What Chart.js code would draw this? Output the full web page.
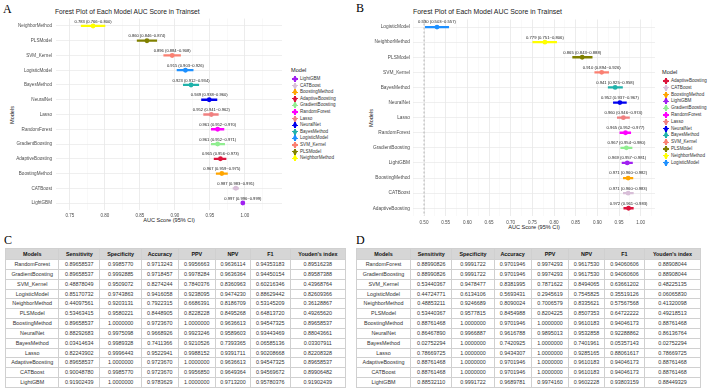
<!DOCTYPE html>
<html><head><meta charset="utf-8">
<script src="https://cdn.jsdelivr.net/npm/chart.js@4.4.1/dist/chart.umd.min.js"></script>
<style>
html,body{margin:0;padding:0;background:#fff;}
body{width:708px;height:390px;position:relative;overflow:hidden;font-family:"Liberation Sans",Arial,sans-serif;}
.abs{position:absolute;white-space:nowrap;}
.letter{font-family:"Liberation Serif","Times New Roman",serif;font-size:12px;line-height:12px;color:#000;}
.ttl{font-size:6.7px;line-height:6.7px;color:#222;}
.axt{font-size:5.6px;line-height:5.6px;color:#222;}
.leg{font-size:4.6px;line-height:6px;color:#333;}
.legT{font-size:5.6px;line-height:6px;color:#222;}
.key{position:absolute;width:6px;height:6px;}
.key .h{position:absolute;left:0;top:2.4px;width:6px;height:1.2px;}
.key .v{position:absolute;left:2.4px;top:0;width:1.2px;height:6px;}
.key .d{position:absolute;left:1px;top:1px;width:4px;height:4px;border-radius:50%;}
table{position:absolute;border-collapse:collapse;table-layout:fixed;font-size:5.4px;color:#333;}
td,th{border:1px solid #d0d0d0;text-align:center;padding:0;height:8.85px;line-height:8.85px;white-space:nowrap;overflow:hidden;}
th{background:#d6d6d6;color:#111;font-weight:bold;height:10px;line-height:10px;}
</style></head><body>

<div class="abs letter" style="left:3px;top:3px;">A</div>
<div class="abs letter" style="left:356px;top:2px;">B</div>
<div class="abs letter" style="left:4px;top:234px;">C</div>
<div class="abs letter" style="left:356px;top:234px;">D</div>

<div class="abs ttl" style="left:55px;top:8.7px;">Forest Plot of Each Model AUC Score in Trainset</div>
<div class="abs ttl" style="left:413px;top:8.7px;font-size:6.9px;">Forest Plot of Each Model AUC Score in Trainset</div>

<div class="abs axt" style="left:169px;top:218.3px;transform:translateX(-50%);">AUC Score (95% CI)</div>
<div class="abs axt" style="left:534px;top:225.3px;transform:translateX(-50%);">AUC Score (95% CI)</div>
<div class="abs axt" style="left:13px;top:114.5px;transform:translate(-50%,-50%) rotate(-90deg);">Models</div>
<div class="abs axt" style="left:372px;top:117.6px;transform:translate(-50%,-50%) rotate(-90deg);">Models</div>

<canvas id="cA" class="abs" style="left:0;top:0;" width="290" height="225"></canvas>
<canvas id="cB" class="abs" style="left:354px;top:0;" width="308" height="235"></canvas>

<div id="legA"></div>
<div id="legB"></div>
<table id="tC" style="left:5px;top:248px;width:340px;"></table>
<table id="tD" style="left:356px;top:248px;width:344px;"></table>

<script>
// ---------- data: panel A (train) ----------
const modelsTrain = ["NeighborMethod","PLSModel","SVM_Kernel","LogisticModel","BayesMethod","NeuralNet","Lasso","RandomForest","GradientBoosting","AdaptiveBoosting","BoostingMethod","CATBoost","LightGBM"];
const aucTrain  = [0.783,0.860,0.896,0.915,0.923,0.949,0.952,0.961,0.961,0.965,0.967,0.987,0.997];
const lowTrain  = [0.766,0.846,0.884,0.903,0.912,0.938,0.941,0.952,0.952,0.956,0.959,0.983,0.996];
const highTrain = [0.800,0.874,0.908,0.926,0.934,0.960,0.962,0.970,0.971,0.973,0.975,0.991,0.999];

// ---------- data: panel B (test) ----------
const modelsTest = ["LogisticModel","NeighborMethod","PLSModel","SVM_Kernel","BayesMethod","NeuralNet","Lasso","RandomForest","GradientBoosting","LightGBM","BoostingMethod","CATBoost","AdaptiveBoosting"];
const aucTest  = [0.530,0.779,0.865,0.910,0.941,0.952,0.960,0.965,0.967,0.969,0.971,0.971,0.972];
const lowTest  = [0.503,0.751,0.843,0.894,0.925,0.937,0.946,0.952,0.954,0.957,0.960,0.960,0.961];
const highTest = [0.557,0.806,0.888,0.926,0.958,0.967,0.974,0.977,0.980,0.981,0.982,0.983,0.983];

const refLine = 0.5;
const ticksA = [0.75,0.80,0.85,0.90,0.95,1.00];
const ticksB = [0.50,0.55,0.60,0.65,0.70,0.75,0.80,0.85,0.90,0.95,1.00];

// ---------- data: tables ----------
const tableHeaders = ["Models","Sensitivity","Specificity","Accuracy","PPV","NPV","F1","Youden's index"];
const tableModels = ["RandomForest","GradientBoosting","SVM_Kernel","LogisticModel","NeighborMethod","PLSModel","BoostingMethod","NeuralNet","BayesMethod","Lasso","AdaptiveBoosting","CATBoost","LightGBM"];

const sensC = ["0.89658537","0.89658537","0.48878049","0.85170732","0.44097561","0.53463415","0.89658537","0.88292683","0.03414634","0.82243902","0.89658537","0.90048780","0.91902439"];
const specC = ["0.9985770","0.9992885","0.9509072","0.9743863","0.9203131","0.9580221","1.0000000","0.9975098","0.9989328","0.9996443","1.0000000","0.9985770","1.0000000"];
const accC  = ["0.9713243","0.9718457","0.8274244","0.9416058","0.7922315","0.8448905","0.9723670","0.9668926","0.7411366","0.9522941","0.9723670","0.9723670","0.9783629"];
const ppvC  = ["0.9956663","0.9978284","0.7840376","0.9238095","0.6686391","0.8228228","1.0000000","0.9923246","0.9210526","0.9988152","1.0000000","0.9956850","1.0000000"];
const npvC  = ["0.9636114","0.9636364","0.8360963","0.9474230","0.8186709","0.8495268","0.9636613","0.9589603","0.7393365","0.9391711","0.9636613","0.9649364","0.9713200"];
const f1C   = ["0.94353183","0.94450154","0.60216346","0.88629442","0.53145209","0.64813720","0.94547325","0.93443469","0.06585136","0.90208668","0.94547325","0.94569672","0.95780376"];
const youC  = ["0.89516238","0.89587388","0.43968764","0.82609366","0.36128867","0.49265620","0.89658537","0.88043661","0.03307911","0.82208328","0.89658537","0.89906482","0.91902439"];

const sensD = ["0.88990826","0.88990826","0.53440367","0.44724771","0.48853211","0.53440367","0.88761468","0.86467890","0.02752294","0.78669725","0.88761468","0.88761468","0.88532110"];
const specD = ["0.9991722","0.9991722","0.9478477","0.6134106","0.9246689","0.9577815","1.0000000","0.9966887","1.0000000","1.0000000","1.0000000","1.0000000","0.9991722"];
const accD  = ["0.9701946","0.9701946","0.8381995","0.5693431","0.8090024","0.8454988","0.9701946","0.9616788","0.7420925","0.9434307","0.9701946","0.9701946","0.9689781"];
const ppvD  = ["0.9974293","0.9974293","0.7871622","0.2945619","0.7006579","0.8204225","1.0000000","0.9895013","1.0000000","1.0000000","1.0000000","1.0000000","0.9974160"];
const npvD  = ["0.9617530","0.9617530","0.8494065","0.7545825","0.8335621","0.8507353","0.9610183","0.9532858","0.7401961","0.9285165","0.9610183","0.9610183","0.9602228"];
const f1D   = ["0.94060606","0.94060606","0.63661202","0.35519126","0.57567568","0.64722222","0.94046173","0.92288862","0.05357143","0.88061617","0.94046173","0.94046173","0.93803159"];
const youD  = ["0.88908044","0.88908044","0.48225135","0.06065830","0.41320098","0.49218513","0.88761468","0.86136764","0.02752294","0.78669725","0.88761468","0.88761468","0.88449329"];

// ---------- styles ----------
const modelColors = {
  LightGBM:"#a020f0", CATBoost:"#d8bfd8", BoostingMethod:"#ffa500", AdaptiveBoosting:"#dc143c",
  GradientBoosting:"#90ee90", RandomForest:"#ff00ff", Lasso:"#f08080", NeuralNet:"#0000ee",
  BayesMethod:"#20b2aa", LogisticModel:"#1e90ff", SVM_Kernel:"#fa8072", PLSModel:"#808000",
  NeighborMethod:"#ffff00"
};
const FONT = '"Liberation Sans", Arial, sans-serif';

const aucLabelPlugin = {
  id:'aucLabels',
  afterDatasetsDraw(chart, args, o){
    const {ctx} = chart, x = chart.scales.x, y = chart.scales.y;
    ctx.save();
    ctx.font = o.size + 'px ' + FONT;
    ctx.fillStyle = '#222'; ctx.textAlign = 'center'; ctx.textBaseline = 'middle';
    o.auc.forEach((v,i)=>{
      ctx.fillText(v.toFixed(3)+' ('+o.lo[i].toFixed(3)+'~'+o.hi[i].toFixed(3)+')',
        x.getPixelForValue(v), y.getPixelForValue(i) - o.dy);
    });
    ctx.restore();
  }
};
const refLinePlugin = {
  id:'refLine',
  beforeDatasetsDraw(chart, args, o){
    if (o.value === undefined) return;
    const {ctx, chartArea} = chart, px = chart.scales.x.getPixelForValue(o.value);
    ctx.save(); ctx.strokeStyle = '#9a9a9a'; ctx.lineWidth = 0.7; ctx.setLineDash([2,2]);
    ctx.beginPath(); ctx.moveTo(px, chartArea.top); ctx.lineTo(px, chartArea.bottom); ctx.stroke();
    ctx.restore();
  }
};

function forest(id, models, auc, lo, hi, cfg){
  const datasets = [];
  models.forEach((m,i)=>{
    datasets.push({type:'bar', label:m, indexAxis:'y', grouped:false,
      data: models.map((_,j)=> j===i ? [lo[i],hi[i]] : null),
      backgroundColor: modelColors[m], borderWidth:0, barThickness:1.6});
  });
  models.forEach((m,i)=>{
    datasets.push({type:'line', label:m+' point', indexAxis:'y', showLine:false,
      data: models.map((_,j)=> j===i ? auc[i] : null),
      pointRadius:2.4, pointStyle:'circle', pointBackgroundColor:modelColors[m],
      pointBorderColor:modelColors[m], pointBorderWidth:0, borderColor:modelColors[m]});
  });
  const isMajor = v => Math.abs(Math.round(v*20) - v*20) < 1e-6;
  return new Chart(document.getElementById(id), {
    type:'bar',
    data:{labels:models, datasets},
    options:{
      indexAxis:'y', responsive:false, animation:false,
      layout:{padding:{top:cfg.top, right:cfg.right, left:0, bottom:0}},
      plugins:{legend:{display:false}, tooltip:{enabled:false}, title:{display:false},
        aucLabels:{auc, lo, hi, size:cfg.labSize, dy:cfg.dy},
        refLine:{value:cfg.ref}},
      scales:{
        x:{type:'linear', min:cfg.min, max:cfg.max,
          afterBuildTicks: s => {
            const t=[]; const major=cfg.ticks;
            for (let k=0;k<major.length;k++){ t.push({value:major[k]}); if (k<major.length-1) t.push({value:(major[k]+major[k+1])/2}); }
            const step = major[1]-major[0];
            t.unshift({value:major[0]-step/2}); t.push({value:major[major.length-1]+step/2});
            s.ticks = t.filter(o=> o.value>=cfg.min-1e-9 && o.value<=cfg.max+1e-9);
          },
          afterFit: s => { s.height = cfg.xh; },
          border:{display:false},
          grid:{drawTicks:false, color: c => isMajor(c.tick.value) ? '#e4e4e4' : '#f1f1f1',
                lineWidth: c => isMajor(c.tick.value) ? 0.7 : 0.45},
          ticks:{autoSkip:false, maxRotation:0, padding:cfg.tpad, color:'#4d4d4d',
                 font:{size:cfg.tickSize, family:FONT},
                 callback: v => isMajor(v) ? v.toFixed(2) : ''}
        },
        y:{type:'category', offset:true,
          afterFit: s => { s.width = cfg.yw; },
          border:{display:false},
          grid:{offset:false, drawTicks:false, color:'#e8e8e8', lineWidth:0.7},
          ticks:{padding:cfg.ypad, color:'#4d4d4d', font:{size:cfg.ySize, family:FONT}}
        }
      }
    },
    plugins:[aucLabelPlugin, refLinePlugin]
  });
}

forest('cA', modelsTrain, aucTrain, lowTrain, highTrain,
  {min:0.73, max:1.053, ticks:ticksA, top:18.6, right:8, xh:14.6, yw:56, tpad:2.5, ypad:4,
   tickSize:4.5, ySize:4.6, labSize:4.1, dy:4.6});
forest('cB', modelsTest, aucTest, lowTest, highTest,
  {min:0.4746, max:1.033, ticks:ticksB, top:19.5, right:7, xh:19.2, yw:59, tpad:4, ypad:3,
   tickSize:4.6, ySize:4.8, labSize:4.2, dy:4.8, ref:refLine});

// ---------- legends ----------
function legend(id, models, x, yTitle, y0, dy){
  const el = document.getElementById(id);
  let html = '<div class="abs legT" style="left:'+x+'px;top:'+(yTitle-3)+'px;">Model</div>';
  models.slice().reverse().forEach((m,i)=>{
    const yc = y0 + i*dy, c = modelColors[m];
    html += '<div class="key" style="left:'+(x+1)+'px;top:'+(yc-3)+'px;"><div class="h" style="background:'+c+'"></div><div class="v" style="background:'+c+'"></div><div class="d" style="background:'+c+'"></div></div>';
    html += '<div class="abs leg" style="left:'+(x+9)+'px;top:'+(yc-3)+'px;">'+m+'</div>';
  });
  el.innerHTML = html;
}
legend('legA', modelsTrain, 291, 70, 79, 6.6);
legend('legB', modelsTest, 662, 72, 81, 6.8);

// ---------- tables ----------
const colFrac = [50,38.3,39,34.3,35,32.7,37.3,51.7];
function table(id, width, cols){
  const t = document.getElementById(id);
  const tot = colFrac.reduce((a,b)=>a+b,0);
  let h = '<colgroup>' + colFrac.map(w=>'<col style="width:'+(w/tot*width).toFixed(2)+'px">').join('') + '</colgroup>';
  h += '<tr>' + tableHeaders.map(x=>'<th>'+x+'</th>').join('') + '</tr>';
  tableModels.forEach((m,i)=>{
    h += '<tr><td>'+m+'</td>' + cols.map(c=>'<td>'+c[i]+'</td>').join('') + '</tr>';
  });
  t.innerHTML = h;
}
table('tC', 340, [sensC,specC,accC,ppvC,npvC,f1C,youC]);
table('tD', 344, [sensD,specD,accD,ppvD,npvD,f1D,youD]);
</script>
</body></html>
